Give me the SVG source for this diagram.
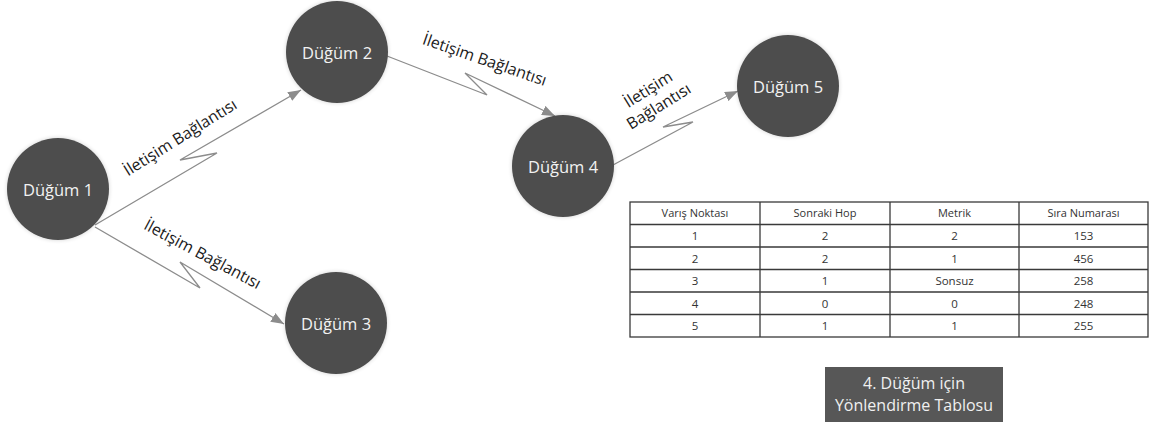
<svg xmlns="http://www.w3.org/2000/svg" width="1175" height="425" viewBox="0 0 1175 425">
  <style>
    .node circle { fill: #4d4d4d; filter: url(#soft); }
    .node text { font-family: "Open Sans", "Liberation Sans", sans-serif; font-size: 16.5px; fill: #f2f2f2; text-anchor: middle; }
    .link { fill: none; stroke: #8c8c8c; stroke-width: 1.3; stroke-linejoin: miter; marker-end: url(#arrow); }
    .lbl { font-family: "Open Sans", "Liberation Sans", sans-serif; font-size: 16px; fill: #1a1a1a; text-anchor: middle; }
    .grid { fill: none; stroke: #3a3a3a; stroke-width: 1.3; }
    .cell { font-family: "Open Sans", "Liberation Sans", sans-serif; font-size: 11.5px; fill: #333; text-anchor: middle; }
    .head { font-size: 11px; }
    .cap rect { fill: #575757; }
    .cap text { font-family: "Open Sans", "Liberation Sans", sans-serif; font-size: 16px; fill: #f0f0f0; text-anchor: middle; }
  </style>
  <defs>
    <marker id="arrow" viewBox="0 0 13 10" refX="13" refY="5" markerWidth="13" markerHeight="10" markerUnits="userSpaceOnUse" orient="auto">
      <path d="M0,0 L13,5 L0,10 z" fill="#8c8c8c"/>
    </marker>
    <filter id="soft" x="-20%" y="-20%" width="140%" height="140%">
      <feGaussianBlur in="SourceAlpha" stdDeviation="2"/>
      <feComponentTransfer><feFuncA type="linear" slope="0.18"/></feComponentTransfer>
      <feMerge><feMergeNode/><feMergeNode in="SourceGraphic"/></feMerge>
    </filter>
  </defs>

  <rect width="1175" height="425" fill="#ffffff"/>

  <!-- communication links (lightning-bolt connectors) -->
  <g id="connectors">
    <polyline class="link" points="95,225 217,153 180,160 301,90"/>
    <polyline class="link" points="95,227 200,288 180,262 284,324"/>
    <polyline class="link" points="387,56 487,95 465,73 555,116"/>
    <polyline class="link" points="613,165 693,122 663,127 738,91"/>
  </g>

  <!-- link labels -->
  <g id="labels">
    <text class="lbl" transform="translate(183,142) rotate(-32)">İletişim Bağlantısı</text>
    <text class="lbl" transform="translate(200,259) rotate(28)">İletişim Bağlantısı</text>
    <text class="lbl" transform="translate(483,65) rotate(19)">İletişim Bağlantısı</text>
    <text class="lbl" transform="translate(651,94) rotate(-32)"><tspan x="0" y="0">İletişim</tspan><tspan x="0" y="20">Bağlantısı</tspan></text>
  </g>

  <g id="node1" class="node">
    <circle cx="58" cy="189" r="51"/>
    <text x="58" y="196">Düğüm 1</text>
  </g>
  <g id="node2" class="node">
    <circle cx="337" cy="52" r="51"/>
    <text x="337" y="59">Düğüm 2</text>
  </g>
  <g id="node3" class="node">
    <circle cx="336" cy="323" r="51"/>
    <text x="336" y="330">Düğüm 3</text>
  </g>
  <g id="node4" class="node">
    <circle cx="563" cy="166" r="51"/>
    <text x="563" y="173">Düğüm 4</text>
  </g>
  <g id="node5" class="node">
    <circle cx="788" cy="86" r="51"/>
    <text x="788" y="93">Düğüm 5</text>
  </g>

  <!-- routing table of node 4 -->
  <g id="routing-table">
    <rect class="grid" x="630" y="202" width="518" height="135"/>
    <path class="grid" d="M630,224.5 H1148 M630,247 H1148 M630,269.5 H1148 M630,292 H1148 M630,314.5 H1148 M760,202 V337 M890,202 V337 M1019,202 V337"/>
    <g class="cell">
      <text class="head" x="695" y="217">Varış Noktası</text>
      <text class="head" x="825" y="217">Sonraki Hop</text>
      <text class="head" x="954.5" y="217">Metrik</text>
      <text class="head" x="1083.5" y="217">Sıra Numarası</text>

      <text x="695" y="240">1</text><text x="825" y="240">2</text><text x="954.5" y="240">2</text><text x="1083.5" y="240">153</text>
      <text x="695" y="262.5">2</text><text x="825" y="262.5">2</text><text x="954.5" y="262.5">1</text><text x="1083.5" y="262.5">456</text>
      <text x="695" y="285">3</text><text x="825" y="285">1</text><text x="954.5" y="285">Sonsuz</text><text x="1083.5" y="285">258</text>
      <text x="695" y="307.5">4</text><text x="825" y="307.5">0</text><text x="954.5" y="307.5">0</text><text x="1083.5" y="307.5">248</text>
      <text x="695" y="330">5</text><text x="825" y="330">1</text><text x="954.5" y="330">1</text><text x="1083.5" y="330">255</text>
    </g>
  </g>

  <g id="caption" class="cap">
    <rect x="825" y="367" width="178" height="55"/>
    <text x="914" y="389">4. Düğüm için</text>
    <text x="914" y="411">Yönlendirme Tablosu</text>
  </g>
</svg>
